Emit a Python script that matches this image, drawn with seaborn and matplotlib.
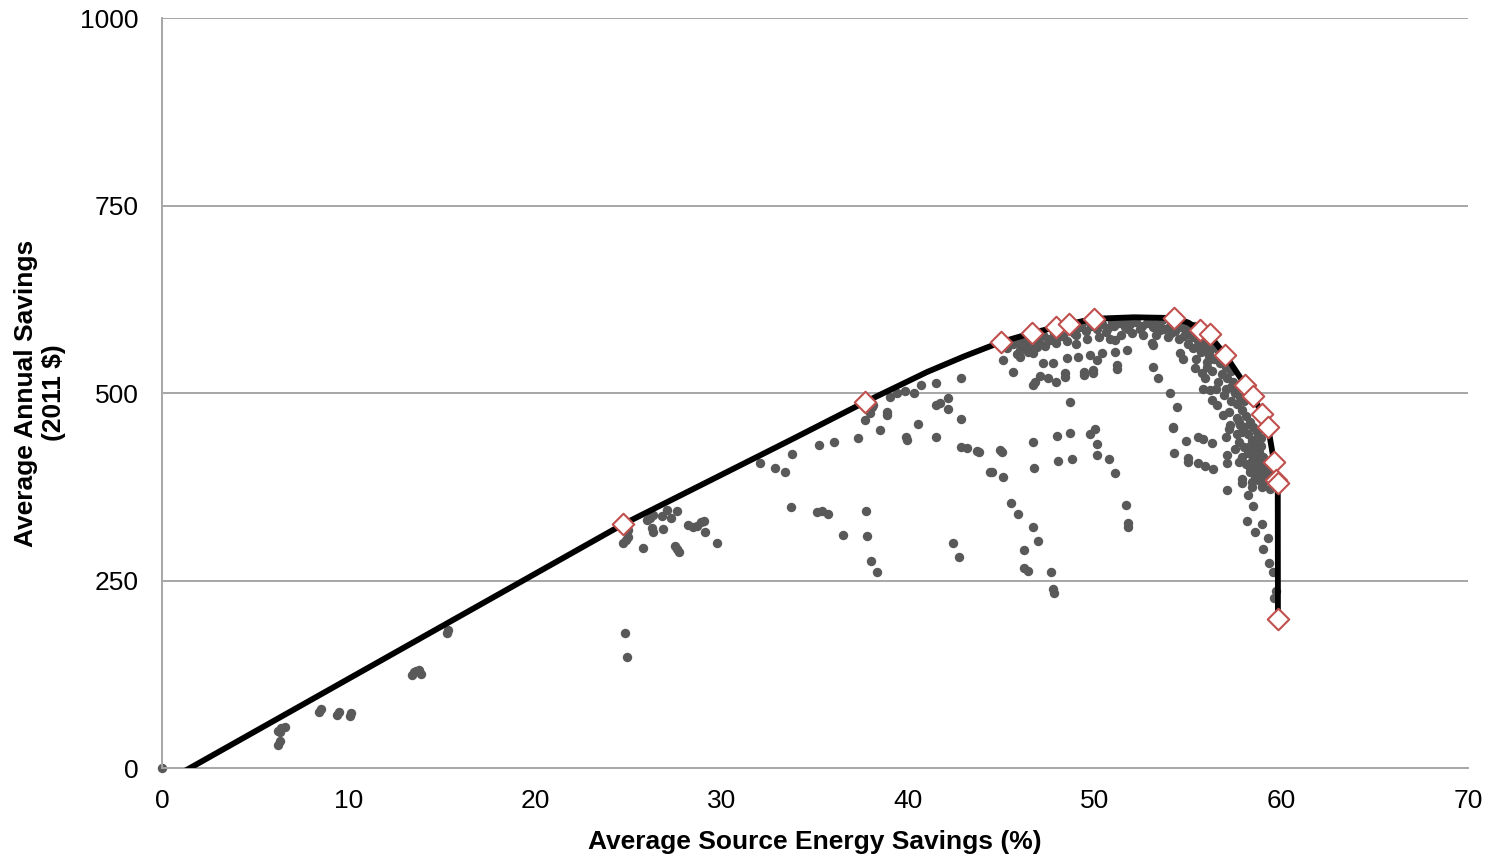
import numpy as np
import pandas as pd
import matplotlib
matplotlib.use("Agg")
import matplotlib.pyplot as plt
import seaborn as sns

# Simulated packages: energy savings (%) vs annual savings (2011 $)
pkg_x = [
    0.0,
    6.2, 6.4, 6.6, 6.3, 6.2, 6.3, 8.4, 8.5, 9.4, 9.5, 10.1, 10.15,
    13.4, 13.6, 13.8, 13.9, 13.5, 15.3, 15.35,
    24.7, 24.87, 25.0, 25.0, 24.8, 25.8, 26.0, 26.15, 26.3, 26.8, 27.07, 27.3, 27.6, 26.25, 26.3, 26.85,
    27.5, 27.6, 27.7, 28.2, 28.45, 28.65, 28.9, 29.05, 29.1, 29.75, 24.8, 24.9,
    32.05, 32.85, 33.4, 33.77, 33.7, 35.1, 35.4, 35.7, 36.5, 35.2, 36.0,
    37.3, 37.7, 37.95, 38.05, 37.73, 37.8, 38.0, 38.3, 38.5, 38.86, 38.86, 39.0, 39.4, 39.8, 40.3,
    40.7, 41.5, 40.5, 39.9, 39.93, 41.5, 41.5, 41.7, 42.1, 42.1, 42.8, 42.8, 43.15, 43.7, 44.4,
    42.4, 42.7, 44.9, 42.8, 38.1, 37.9,
    45.0, 44.5, 45.1, 46.7, 46.75, 47.97, 48.67, 48.03, 48.77, 49.74, 50.0, 50.1, 50.1, 50.76, 51.1,
    51.67, 51.78, 51.78, 45.5, 45.9, 46.7, 46.95, 46.2, 46.2, 46.4, 47.65, 47.76, 47.8, 43.8,
    45.1, 45.6, 46.0, 46.4, 46.7, 46.9, 47.2, 47.76, 47.5, 47.9, 46.8, 46.7, 47.06, 48.5, 48.4, 48.4,
    49.1, 49.4, 49.4, 49.9, 49.9, 49.74, 50.1, 50.4, 51.1, 51.2, 51.2, 51.7, 48.67, 51.1, 53.1,
    45.3, 45.6, 45.9, 46.2, 46.5, 46.9, 47.2, 47.5, 47.8, 48.1, 48.3, 48.6, 48.9, 49.2, 49.5, 49.8,
    50.1, 50.4, 50.7, 51.0, 51.3, 51.6, 51.9, 52.2, 52.5, 52.8, 53.1, 53.4, 53.7, 54.0, 54.3, 54.6,
    54.9, 55.2, 55.5,
    46.0, 46.6, 47.3, 47.9, 48.5, 49.0, 49.6, 50.2, 50.8, 51.4, 52.0, 52.6, 53.3, 53.9, 54.5, 55.0,
    55.6, 56.1,
    48.2, 48.8, 49.3, 50.3, 50.9, 51.5, 52.0, 53.0, 53.6, 54.4, 54.8, 55.3, 55.8, 56.0,
    53.06, 53.1, 53.4, 54.0, 54.4, 54.2, 54.56, 54.7, 55.26, 55.37, 55.74, 56.0, 55.8, 56.17, 56.28,
    56.55, 56.87, 57.24, 57.6, 57.8,
    54.2, 54.9, 55.5, 55.8, 56.3, 54.25, 55.0, 55.0, 55.5, 55.9, 56.35, 57.0, 57.2, 57.9, 57.1, 57.1,
    57.7, 57.1, 57.9, 57.9, 58.4, 58.4, 58.2, 58.5, 58.15, 58.6, 58.96, 59.3, 59.0, 59.33, 59.55,
    59.7, 59.6, 58.85, 58.85, 58.95,
    58.3, 58.5, 58.7, 58.4, 58.6, 58.8, 58.3, 58.9, 59.1, 58.5, 58.2, 59.0, 58.9, 58.6,
    55.0, 55.3, 55.6, 55.9, 56.2, 56.5, 56.1, 56.4, 56.7, 57.0, 57.3, 56.8, 57.1, 57.4, 57.7, 57.5,
    57.8, 58.0, 57.6, 57.9, 58.1, 57.3, 57.0, 56.6, 56.9, 58.3, 58.5, 58.7, 58.9, 58.2, 58.0, 57.7,
    58.4, 58.6, 58.8, 59.0, 59.2, 59.1, 59.3, 58.9, 58.7, 59.4, 59.2, 59.4, 58.6, 58.3, 58.1, 57.9,
    57.5, 57.7, 55.7, 56.3, 55.9, 56.5, 57.2, 55.4, 56.0, 57.6, 58.0, 58.5, 59.0,
    45.8, 46.3, 47.0, 47.6, 48.0, 49.0, 50.6, 51.8, 52.4, 53.5, 54.1, 54.8, 55.9, 56.6, 57.3, 58.7,
]
pkg_y = [
    0,
    50, 53, 55, 48, 31, 36, 75, 79, 71, 75, 69, 73,
    124, 130, 131, 126, 128, 180, 184,
    300, 304, 308, 317, 321, 293, 331, 333, 337, 336, 344, 334, 343, 320, 315, 319,
    296, 292, 288, 324, 321, 323, 328, 329, 315, 300, 180, 148,
    407, 400, 395, 419, 348, 341, 343, 339, 311, 431, 435,
    440, 464, 473, 481, 343, 309, 276, 261, 451, 475, 471, 495, 500, 503, 500,
    511, 513, 459, 441, 437, 441, 484, 487, 493, 479, 465, 428, 427, 423, 395,
    300, 282, 424, 520, 484, 478,
    421, 395, 388, 435, 400, 443, 447, 409, 412, 445, 452, 432, 417, 412, 393,
    351, 327, 321, 353, 339, 321, 303, 291, 267, 263, 261, 239, 233, 421,
    544, 528, 548, 555, 553, 561, 540, 540, 520, 515, 515, 511, 523, 547, 527, 521,
    548, 528, 524, 531, 527, 551, 544, 553, 555, 537, 532, 557, 488, 571, 564,
    560, 565, 568, 570, 566, 574, 577, 572, 580, 583, 576, 585, 580, 588, 583, 590,
    585, 592, 587, 590, 593, 588, 592, 595, 590, 594, 588, 592, 586, 590, 583, 588,
    580, 575, 570,
    558, 560, 563, 567, 570, 566, 572, 575, 572, 578, 580, 577, 578, 575, 572, 565,
    560, 555,
    590, 592, 594, 596, 595, 597, 598, 597, 598, 596, 593, 590, 582, 575,
    567, 535, 520, 500, 481, 455, 553, 545, 560, 533, 527, 541, 505, 504, 491,
    484, 471, 457, 467, 457,
    453, 436, 441, 439, 433, 420, 413, 408, 407, 403, 399, 441, 452, 448, 417, 407,
    408, 371, 385, 380, 381, 375, 364, 349, 329, 315, 325, 307, 292, 273, 261,
    236, 227, 383, 391, 375,
    430, 425, 420, 410, 405, 400, 400, 395, 392, 415, 420, 410, 430, 437,
    585, 580, 575, 570, 565, 560, 550, 545, 540, 535, 530, 525, 520, 515, 510, 500,
    495, 490, 485, 478, 470, 490, 505, 515, 498, 462, 455, 448, 440, 445, 455, 462,
    437, 430, 422, 415, 408, 400, 395, 405, 410, 388, 385, 372, 390, 395, 405, 415,
    425, 435, 555, 530, 520, 505, 475, 545, 535, 445, 428, 398, 380,
    552, 562, 568, 571, 575, 578, 582, 585, 586, 584, 580, 576, 563, 548, 508, 428,
]

# Least-cost frontier curve and the optimal packages on it
curve_x = [0.0, 24.71, 33.66, 37.68, 41.0, 43.0, 44.97, 46.63, 47.92, 48.6, 49.95, 52.1, 54.24,
           55.0, 55.63, 56.17, 56.98, 58.05, 58.48, 58.96, 59.28, 59.6, 59.71, 59.8, 59.81]
curve_y = [-21, 325, 437, 488, 528, 549, 568, 580, 588, 592, 599, 601, 600,
           594, 584, 576, 551, 511, 496, 472, 455, 408, 384, 380, 199]

opt_x = [24.71, 37.68, 44.97, 46.63, 47.92, 48.6, 49.95, 54.24, 55.63, 56.17, 56.98,
         58.05, 58.48, 58.96, 59.28, 59.6, 59.71, 59.8, 59.81]
opt_y = [325, 488, 568, 580, 588, 592, 599, 600, 584, 579, 551,
         511, 496, 472, 455, 408, 384, 380, 199]

x_ticks = [0, 10, 20, 30, 40, 50, 60, 70]
y_ticks = [0, 250, 500, 750, 1000]

pkg = pd.DataFrame({"x": pkg_x, "y": pkg_y})
curve = pd.DataFrame({"x": curve_x, "y": curve_y})
opt = pd.DataFrame({"x": opt_x, "y": opt_y})

sns.set_style("white")
plt.rcParams['font.family'] = ['Liberation Sans', 'DejaVu Sans']
plt.rcParams['text.color'] = 'black'
plt.rcParams['axes.labelcolor'] = 'black'
plt.rcParams['xtick.labelcolor'] = 'black'
plt.rcParams['ytick.labelcolor'] = 'black'

fig = plt.figure(figsize=(14.93, 8.59), dpi=100)
ax = fig.add_axes([0.1085, 0.1059, 0.8748, 0.8731])

grid_c = '#A6A6A6'
for yv in y_ticks[1:]:
    ax.axhline(yv, color=grid_c, lw=1.4, zorder=0)

sns.scatterplot(data=pkg, x="x", y="y", ax=ax, color='#595959', s=46,
                linewidth=0, zorder=2, clip_on=False)
sns.lineplot(data=curve, x="x", y="y", ax=ax, sort=False, estimator=None,
             color='black', lw=4.2, zorder=3)
sns.scatterplot(data=opt, x="x", y="y", ax=ax, marker='D', s=120,
                facecolor='white', edgecolor='#C0504D', linewidth=1.5, zorder=4)

ax.set_xlim(0, 70)
ax.set_ylim(0, 1000)
ax.set_xticks(x_ticks)
ax.set_yticks(y_ticks)
ax.tick_params(axis='x', direction='in', length=6, width=1.4, color=grid_c,
               labelsize=19, pad=15)
ax.tick_params(axis='y', length=0, labelsize=19, pad=17)

for side in ['top', 'right']:
    ax.spines[side].set_visible(False)
for side in ['left', 'bottom']:
    ax.spines[side].set_color(grid_c)
    ax.spines[side].set_linewidth(1.4)

ax.set_xlabel("Average Source Energy Savings (%)", fontsize=19, fontweight='bold', labelpad=12)
ax.set_ylabel("Average Annual Savings\n(2011 $)", fontsize=19, fontweight='bold', labelpad=10)

fig.savefig("out.png", dpi=100)
